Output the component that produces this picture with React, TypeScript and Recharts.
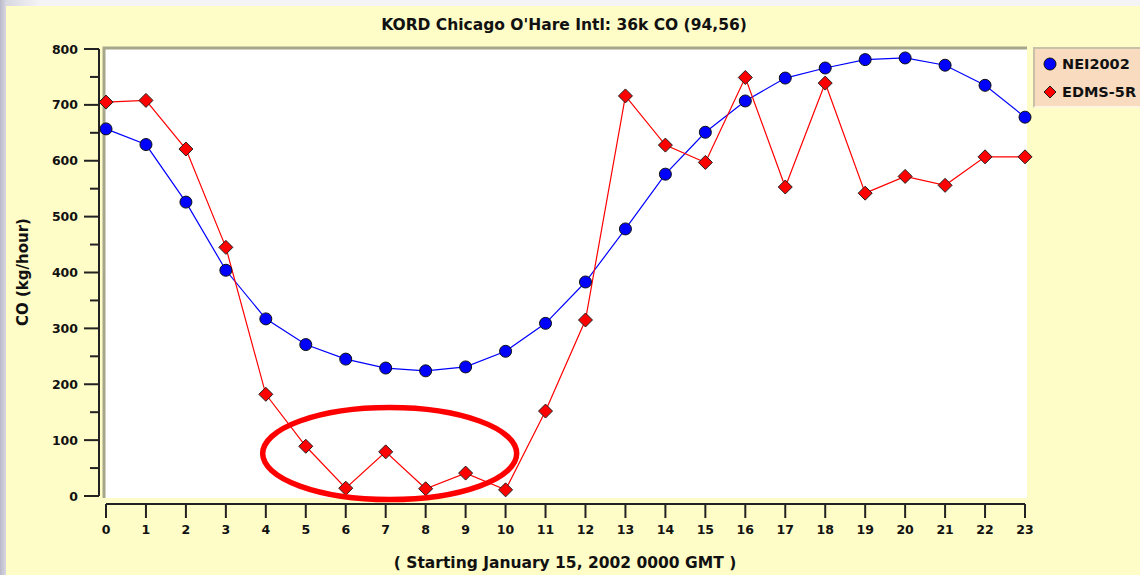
import { LineChart, Line, XAxis, YAxis, ReferenceArea, ReferenceLine, ReferenceDot } from 'recharts';

const hours = [0, 1, 2, 3, 4, 5, 6, 7, 8, 9, 10, 11, 12, 13, 14, 15, 16, 17, 18, 19, 20, 21, 22, 23];
const nei2002 = [657, 629, 526, 404, 317, 271, 245, 229, 224, 231, 259, 309, 383, 478, 576, 651, 707, 748, 766, 781, 784, 771, 735, 678];
const edms = [705, 708, 621, 445, 182, 89, 14, 79, 13, 41, 11, 152, 315, 716, 628, 597, 749, 553, 739, 542, 572, 556, 607, 607];
const yTicks = [0, 50, 100, 150, 200, 250, 300, 350, 400, 450, 500, 550, 600, 650, 700, 750, 800];

const title = "KORD Chicago O'Hare Intl: 36k CO (94,56)";
const xTitle = '( Starting January 15, 2002 0000 GMT )';
const yTitle = 'CO (kg/hour)';
const seriesNames = ['NEI2002', 'EDMS-5R'];

// annotation ellipse around the low EDMS values (center in data units)
const circled = { x: 7.1, y: 76 };

const data = hours.map((h, i) => ({ hour: h, nei: nei2002[i], edms: edms[i] }));

const FONT = '"DejaVu Sans", sans-serif';
const YELLOW = '#fefcc7';

const Diamond = ({ cx, cy, size = 7 }: any) => (
    <polygon
        points={`${cx},${cy - size} ${cx + size},${cy} ${cx},${cy + size} ${cx - size},${cy}`}
        fill="#ff0000"
        stroke="#202020"
        strokeWidth={1}
    />
);

const YTick = ({ x, y, payload }: any) => {
    const major = payload.value % 100 === 0;
    return (
        <g>
            <line x1={x - 7 - (major ? 15 : 9)} x2={x - 7} y1={y} y2={y} stroke="#222" strokeWidth={2} />
            {major && (
                <text x={x - 28} y={y + 4.5} textAnchor="end" fontFamily={FONT} fontWeight="bold" fontSize={12.5} fill="#111">
                    {payload.value}
                </text>
            )}
        </g>
    );
};

const XTick = ({ x, y, payload }: any) => (
    <g>
        <line x1={x} x2={x} y1={y + 8} y2={y + 22} stroke="#222" strokeWidth={2} />
        <text x={x} y={y + 38} textAnchor="middle" fontFamily={FONT} fontWeight="bold" fontSize={12.5} fill="#111">
            {payload.value}
        </text>
    </g>
);

const App = () => {
    return (
        <div style={{ position: 'fixed', left: 0, top: 0, width: 1140, height: 575, overflow: 'hidden', background: 'linear-gradient(90deg, #b8b8c8 0px, #d8d8e2 6px, #f4f4f6 40px)' }}>
            <div style={{ position: 'absolute', left: 6, top: 6, width: 1134, height: 569, background: YELLOW }} />
            <div style={{ position: 'absolute', left: 0, top: 0 }}>
                <LineChart width={1140} height={575} data={data} margin={{ top: 49, right: 115, bottom: 0, left: 36 }}>
                    <ReferenceArea
                        x1={0}
                        x2={23}
                        y1={0}
                        y2={800}
                        ifOverflow="visible"
                        shape={(p: any) => (
                            <g>
                                <rect x={p.x - 3} y={p.y - 2} width={p.width + 5} height={p.height + 4} fill="#ffffff" />
                                <path d={`M${p.x - 2},${p.y + p.height + 2} L${p.x - 2},${p.y - 1} L${p.x + p.width + 2},${p.y - 1}`} fill="none" stroke="#a6a68a" strokeWidth={3} />
                            </g>
                        )}
                    />
                    <XAxis
                        dataKey="hour"
                        type="number"
                        domain={[0, 23]}
                        ticks={hours}
                        interval={0}
                        axisLine={false}
                        tickLine={false}
                        tickSize={0}
                        tickMargin={0}
                        height={79}
                        tick={<XTick />}
                    />
                    <YAxis
                        type="number"
                        domain={[0, 800]}
                        ticks={yTicks}
                        interval={0}
                        axisLine={false}
                        tickLine={false}
                        tickSize={0}
                        tickMargin={0}
                        width={70}
                        tick={<YTick />}
                    />
                    <ReferenceLine
                        x={0}
                        ifOverflow="visible"
                        shape={(p: any) => <line x1={p.x1 - 7} x2={p.x2 - 7} y1={p.y1} y2={p.y2} stroke="#222" strokeWidth={2} />}
                    />
                    <ReferenceLine
                        y={0}
                        ifOverflow="visible"
                        shape={(p: any) => <line x1={p.x1} x2={p.x2} y1={p.y1 + 8} y2={p.y2 + 8} stroke="#222" strokeWidth={2} />}
                    />
                    <Line
                        type="linear"
                        dataKey="nei"
                        name={seriesNames[0]}
                        stroke="#0000ff"
                        strokeWidth={1.2}
                        dot={{ r: 6, fill: '#0000ff', stroke: '#111', strokeWidth: 1 }}
                        isAnimationActive={false}
                    />
                    <Line
                        type="linear"
                        dataKey="edms"
                        name={seriesNames[1]}
                        stroke="#ff0000"
                        strokeWidth={1.2}
                        dot={(p: any) => <Diamond key={p.index} cx={p.cx} cy={p.cy} />}
                        isAnimationActive={false}
                    />
                    <ReferenceDot
                        x={circled.x}
                        y={circled.y}
                        ifOverflow="visible"
                        shape={(p: any) => <ellipse cx={p.cx} cy={p.cy} rx={127} ry={46} fill="none" stroke="#ff0000" strokeWidth={5.5} />}
                    />
                    <text x={564} y={30} textAnchor="middle" fontFamily={FONT} fontWeight="bold" fontSize={15.5} fill="#111">
                        {title}
                    </text>
                    <text x={565} y={568} textAnchor="middle" fontFamily={FONT} fontWeight="bold" fontSize={15.5} fill="#111">
                        {xTitle}
                    </text>
                    <text x={28} y={272} textAnchor="middle" transform="rotate(-90 28 272)" fontFamily={FONT} fontWeight="bold" fontSize={15} fill="#111">
                        {yTitle}
                    </text>
                </LineChart>
            </div>
            <div style={{ position: 'absolute', left: 1033, top: 47, width: 120, height: 61, boxSizing: 'border-box', background: '#f9dcc0', borderLeft: '2px solid #c8c0a8', borderTop: '2px solid #c8c0a8', borderBottom: '2px solid #fff6e0', fontFamily: FONT, fontWeight: 'bold', fontSize: 14.5, color: '#111' }}>
                <div style={{ position: 'absolute', left: 8, top: 7, display: 'flex', alignItems: 'center' }}>
                    <svg width={14} height={14}><circle cx={7} cy={7} r={6} fill="#0000ff" stroke="#111" strokeWidth={1} /></svg>
                    <span style={{ marginLeft: 5 }}>{seriesNames[0]}</span>
                </div>
                <div style={{ position: 'absolute', left: 8, top: 35, display: 'flex', alignItems: 'center' }}>
                    <svg width={14} height={14}><Diamond cx={7} cy={7} size={6} /></svg>
                    <span style={{ marginLeft: 5 }}>{seriesNames[1]}</span>
                </div>
            </div>
        </div>
    );
};

export default App;
